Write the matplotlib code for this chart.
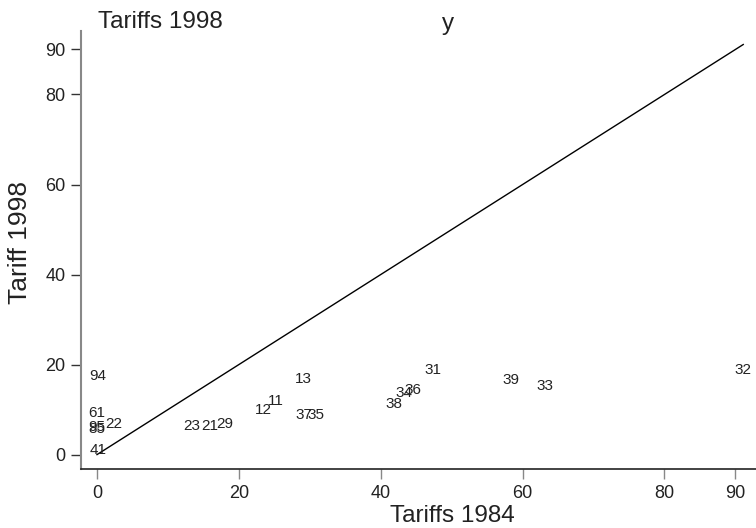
import matplotlib
matplotlib.use("Agg")
import matplotlib.pyplot as plt

plt.rcParams['font.family'] = ['Liberation Sans', 'DejaVu Sans']

labels = ["94", "61", "85", "95", "22", "41", "23", "21", "29", "12", "11", "13",
          "37", "35", "38", "34", "36", "31", "39", "33", "32"]
tariff84 = [0.1, 0.0, 0.0, 0.0, 2.3, 0.1, 13.3, 15.9, 18.0, 23.5, 25.2, 29.1,
            29.2, 30.8, 41.9, 43.2, 44.6, 47.3, 58.4, 63.2, 91.1]
tariff98 = [17.4, 9.3, 5.6, 6.1, 6.8, 1.1, 6.3, 6.3, 6.7, 9.8, 11.9, 16.7,
            8.9, 8.9, 11.3, 13.7, 14.4, 18.9, 16.5, 15.3, 18.9]
line_x = [0, 91.1]
xticks = [0, 20, 40, 60, 80, 90]
yticks = [0, 20, 40, 60, 80, 90]

W, H = 756, 528
fig = plt.figure(figsize=(W/100, H/100), dpi=100)
ax = fig.add_axes([80.7/W, 1-469/H, (756-80.7)/W, (469-31)/H])

ax.plot(line_x, line_x, color='black', lw=1.0)
for lab, x, y in zip(labels, tariff84, tariff98):
    ax.text(x, y, lab, ha='center', va='center', fontsize=11, color='#222222', clip_on=False)

ax.set_xlim(-2.3, 92.9)
ax.set_ylim(-3.2, 94.1)
ax.set_xticks(xticks)
ax.set_yticks(yticks)
ax.tick_params(axis='both', direction='out', length=7.2, width=1,
               labelsize=13, labelcolor='#222222')
ax.tick_params(axis='x', color='#888888', pad=4.5)
ax.tick_params(axis='y', color='#333333', pad=3.6)
for s in ['top', 'right']:
    ax.spines[s].set_visible(False)
ax.spines['left'].set_color('#888888')
ax.spines['bottom'].set_color('#222222')
ax.spines['left'].set_linewidth(1.5)
ax.spines['bottom'].set_linewidth(1.2)

fig.text(98/W, 1-28/H, "Tariffs 1998", ha='left', va='baseline', fontsize=17.5, color='#222222')
fig.text(448/W, 1-30/H, "y", ha='center', va='baseline', fontsize=17.5, color='#222222')
fig.text(27/W, 1-243/H, "Tariff 1998", ha='center', va='baseline', rotation=90,
         rotation_mode='anchor', fontsize=19, color='#222222')
fig.text(452/W, 1-522/H, "Tariffs 1984", ha='center', va='baseline', fontsize=17.5, color='#222222')

fig.savefig("out.png", dpi=100)
